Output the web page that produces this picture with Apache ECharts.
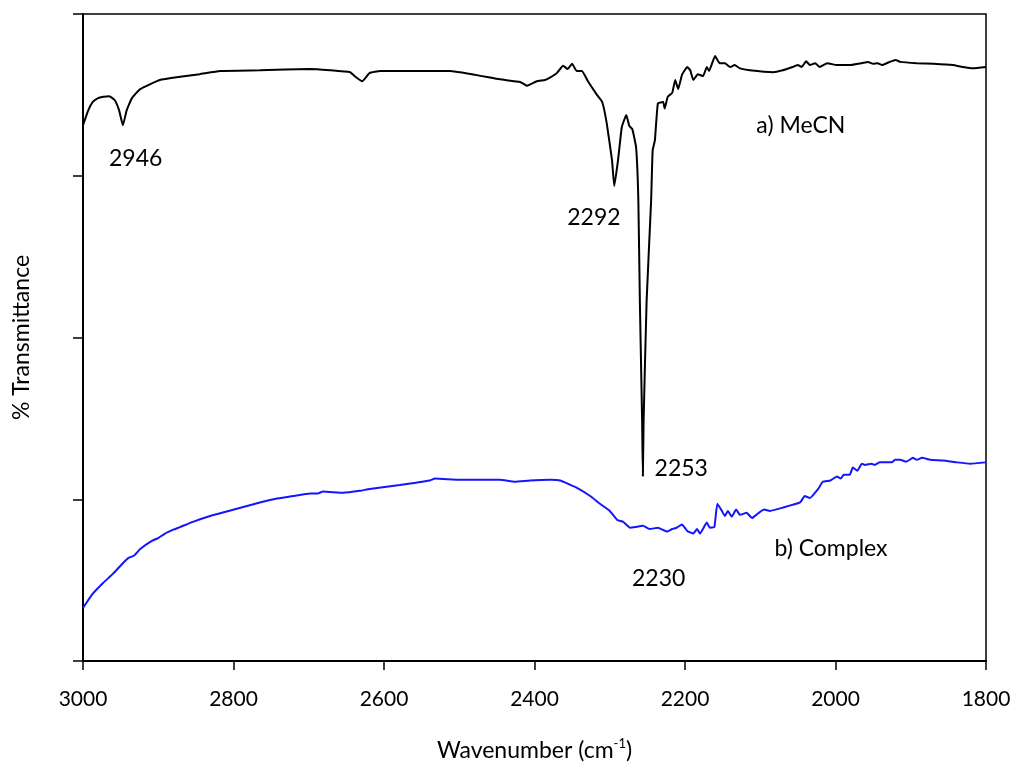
<!DOCTYPE html>
<html>
<head>
<meta charset="utf-8">
<script src="https://cdn.jsdelivr.net/npm/echarts@6/dist/echarts.min.js"></script>
<style>html,body{margin:0;padding:0;background:#fff}#c{width:1024px;height:781px}</style>
</head>
<body>
<div id="c"></div>
<script>
// MeCN spectrum: [wavenumber, %T]
const mecnWavenumber = [3000,2993,2987,2980,2973,2965,2958,2952,2947,2942,2935,2924,2898,2871,2845,2818,2765,2698,2672,2645,2639,2629,2619,2605,2512,2446,2419,2410,2397,2386,2379,2370,2362,2356,2350,2344,2337,2329,2317,2310,2304,2297,2294,2289,2284,2278,2274,2270,2265,2262,2260,2257,2256,2255,2251,2245,2243,2240,2236,2229,2227,2223,2217,2213,2209,2204,2197,2193,2189,2183,2176,2171,2168,2160,2154,2147,2140,2134,2127,2114,2083,2070,2057,2050,2045,2039,2034,2027,2021,2011,1998,1981,1965,1957,1950,1944,1938,1928,1920,1914,1892,1870,1844,1831,1817,1800];
const mecnT = [82.8,85.1,86.4,87.0,87.2,87.3,86.7,85.1,82.8,85.1,87.0,88.4,89.8,90.3,90.7,91.2,91.3,91.5,91.3,91.0,90.4,89.6,90.9,91.2,91.2,89.9,89.5,88.9,89.6,89.8,90.2,90.9,92.0,91.5,92.3,91.2,91.2,89.6,87.5,86.4,83.1,77.4,73.4,77.4,82.5,84.4,82.7,82.2,79.4,71.2,55.7,37.2,28.6,37.2,55.7,71.2,78.9,80.5,86.2,86.4,85.4,87.2,87.8,89.8,88.4,90.6,91.8,91.3,89.8,90.7,90.4,91.8,91.2,93.5,92.4,92.4,91.8,92.1,91.6,91.3,91.0,91.3,91.8,92.1,91.8,92.7,92.1,92.4,91.8,92.4,92.1,92.1,92.4,92.6,92.3,92.4,92.1,92.6,92.9,92.6,92.4,92.3,92.1,91.8,91.6,91.8];
// Complex spectrum
const complexWavenumber = [3000,2987,2973,2960,2948,2940,2932,2924,2908,2900,2891,2880,2871,2854,2831,2809,2787,2765,2742,2721,2698,2688,2681,2654,2632,2619,2579,2539,2532,2499,2446,2426,2406,2379,2366,2346,2326,2313,2300,2290,2282,2273,2266,2256,2247,2236,2224,2217,2211,2204,2197,2189,2184,2180,2171,2167,2161,2157,2151,2147,2143,2138,2132,2127,2118,2111,2103,2095,2087,2070,2047,2041,2034,2023,2017,2007,1998,1993,1989,1981,1977,1971,1965,1961,1952,1948,1941,1925,1921,1914,1906,1897,1892,1885,1874,1857,1838,1821,1800];
const complexT = [8.2,10.4,12.1,13.5,15.0,15.9,16.3,17.3,18.6,19.0,19.7,20.3,20.7,21.5,22.4,23.1,23.8,24.5,25.1,25.5,25.9,25.9,26.2,26.0,26.3,26.6,27.2,27.9,28.2,28.0,28.0,27.7,27.9,28.0,27.9,26.9,25.5,24.3,23.2,21.8,21.5,20.6,20.7,20.9,20.4,20.6,20.0,20.4,20.6,21.1,20.1,19.7,20.4,19.7,21.4,20.6,20.7,24.3,23.2,22.4,23.2,22.3,23.4,22.6,22.9,22.1,22.8,23.4,23.2,23.7,24.5,25.5,25.2,26.6,27.7,27.9,28.5,28.2,28.8,28.8,29.9,29.4,30.5,30.3,30.5,30.3,30.7,30.7,31.1,31.1,30.8,31.4,31.1,31.4,31.1,31.0,30.7,30.5,30.7];
// annotations
const annotationText = ['2946','2292','2253','2230','a) MeCN','b) Complex'];
const annotationX = [2930,2321,2205,2235,2046,2006];
const annotationY = [77.7,68.6,29.7,12.7,82.7,17.3];
const xTicks = [1800,3000,200];

const FONT = 'Lato';
const zip = (a,b) => a.map((v,i)=>[v,b[i]]);
const chart = echarts.init(document.getElementById('c'), null, {renderer:'canvas'});
chart.setOption({
  animation:false,
  backgroundColor:'#fff',
  grid:{left:83,right:38,top:14,bottom:120,show:true,borderColor:'#000',borderWidth:1.5,backgroundColor:'transparent'},
  xAxis:{type:'value',inverse:true,min:xTicks[0],max:xTicks[1],interval:xTicks[2],
    axisLine:{show:true,lineStyle:{color:'#000',width:2}},
    axisTick:{show:true,length:9,lineStyle:{color:'#000',width:1.5}},
    axisLabel:{color:'#000',fontFamily:FONT,fontSize:21,margin:28,formatter:v=>String(v)},
    splitLine:{show:false},
    name:'Wavenumber (cm{sup|-1})',nameLocation:'middle',nameGap:76,
    nameTextStyle:{color:'#000',fontFamily:FONT,fontSize:23,rich:{sup:{fontSize:13,fontFamily:FONT,color:'#000',padding:[0,0,14,0]}}}
  },
  yAxis:{type:'value',min:0,max:100,interval:25,
    axisLine:{show:true,lineStyle:{color:'#000',width:2}},
    axisTick:{show:true,length:10,lineStyle:{color:'#000',width:1.5}},
    axisLabel:{show:false},
    splitLine:{show:false},
    name:'% Transmittance',nameLocation:'middle',nameGap:50,
    nameTextStyle:{color:'#000',fontFamily:FONT,fontSize:23}
  },
  series:[
    {type:'line',data:zip(mecnWavenumber,mecnT),showSymbol:false,symbol:'none',smooth:0.12,
      lineStyle:{color:'#000',width:2}},
    {type:'line',data:zip(complexWavenumber,complexT),showSymbol:false,symbol:'none',smooth:0.12,
      lineStyle:{color:'#1414ff',width:2}},
    {type:'scatter',symbolSize:0,itemStyle:{color:'#000'},silent:true,
      data:annotationText.map((t,i)=>({name:t,value:[annotationX[i],annotationY[i]]})),
      label:{show:true,position:'inside',formatter:p=>p.name,color:'#000',opacity:1,fontFamily:FONT,fontSize:23}}
  ]
});
</script>
</body>
</html>
